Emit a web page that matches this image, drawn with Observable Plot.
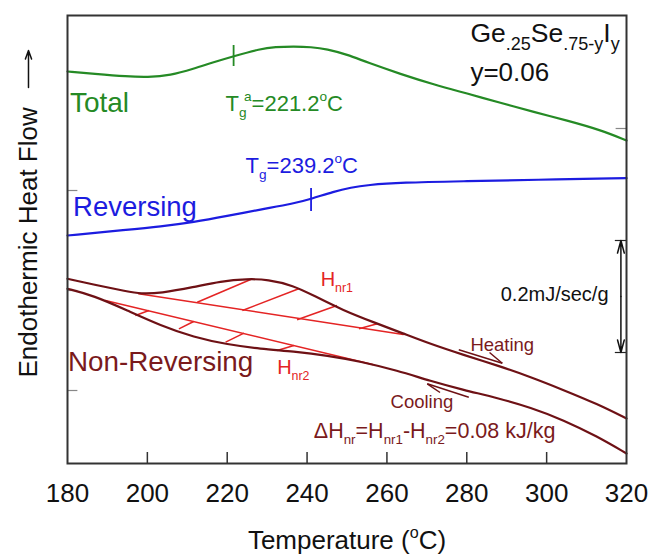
<!DOCTYPE html>
<html><head><meta charset="utf-8">
<script src="https://cdn.jsdelivr.net/npm/d3@7"></script>
<script src="https://cdn.jsdelivr.net/npm/@observablehq/plot@0.6"></script>
<style>body{margin:0;background:#fff;}</style>
</head><body><div id="chart"></div>
<script>
// ---- data (temperature in °C, heat flow in arbitrary units) ----
const xTicks = [180, 200, 220, 240, 260, 280, 300, 320];

const totalT = [180, 186.6, 195, 200, 205.8, 211.6, 216.6, 221.6, 228.3, 232, 236.7, 241, 245, 250, 255.1, 263.4, 271.7, 280.1, 288.4, 296.8, 305.1, 313.5, 320];
const totalV = [392, 389.7, 387, 386.3, 388, 394.7, 401.3, 407.3, 414.7, 416.5, 417, 416.5, 414.5, 409, 401, 389.5, 379, 370, 360.7, 351.5, 343, 333.5, 323];

const revT = [180, 195, 203.3, 211.6, 220, 228.3, 236.7, 241, 246.7, 251, 255.1, 263.4, 280.1, 296.8, 320];
const revV = [228, 233.7, 237, 241.3, 247.5, 254, 260, 264.5, 272, 276, 278.5, 281, 282.3, 283.7, 285.3];

const heatT = [180, 186.5, 195, 198.3, 203.3, 211.6, 218.3, 225.1, 230.1, 236.6, 241.6, 249.1, 256.6, 264.1, 270.9, 279.2, 287.7, 296, 304.2, 312.7, 320];
const heatV = [184.7, 179, 172, 169.7, 170.3, 176.3, 182.3, 184.7, 184, 178, 168, 153, 141.3, 130, 119.5, 108.5, 98, 86.5, 73.5, 59.5, 45];

const coolT = [180, 186.5, 195, 203.3, 211.6, 220.1, 228.3, 236.6, 245.1, 253.4, 262.6, 270.9, 279.2, 287.7, 296, 304.2, 312.7, 320];
const coolV = [174.7, 168, 153, 138, 126.3, 119, 114.7, 112, 108, 102, 93, 82.5, 73.5, 65.5, 56, 43.5, 27, 10];

// straight baselines under the non-reversing enthalpy peaks
const base1T = [197.8, 264.1], base1V = [169.7, 129];
const base2T = [189.5, 256.4], base2V = [163, 99];

// hatch segments [T1, v1, T2, v2]
const hatch1 = [[212.5, 161.3, 226.3, 184.7], [223.8, 153, 237.9, 174.7], [237.5, 143.7, 247.5, 158], [253, 134.7, 257.6, 139.7]];
const hatch2 = [[197, 148, 200.4, 153], [207.9, 134.7, 211.6, 142], [219.6, 121.3, 224.2, 130.3], [232.5, 113, 236.7, 118]];

// glass transition markers
const tgTickT = [221.6, 241.0];
const tgTickV = [[397, 418], [252, 275]];

const leftTickV = [273, 173, 73];
const rightTickV = [335];
const scaleBarV = [111, 223];   // 0.2 mJ/sec/g

// ---- styling ----
const GREEN = "#258a25", BLUE = "#1c1ce0", DARK = "#6e1115", RED = "#e42424", NRTEXT = "#7a1a1c";
const FONT = "'Liberation Sans', Arial, Helvetica, sans-serif";

const zip = (T, V) => T.map((t, i) => ({T: t, v: V[i]}));
const seg = arr => arr.map(([a, b, c, d]) => ({x1: a, y1: b, x2: c, y2: d}));

function label(text, T, v, opts) {
  return Plot.text([{text, T, v}], {x: "T", y: "v", text: "text", lineAnchor: "bottom", textAnchor: "start", ...opts});
}

const plot = Plot.plot({
  width: 651, height: 556,
  marginLeft: 67, marginRight: 25, marginTop: 15, marginBottom: 93,
  style: {fontFamily: FONT, fontSize: "26px", color: "#111", background: "white", overflow: "visible"},
  x: {domain: [180, 320], ticks: xTicks, tickSize: 0, tickPadding: 20, label: null, tickFormat: d => String(d)},
  y: {domain: [0, 448], axis: null},
  marks: [
    Plot.ruleX(xTicks.slice(1, -1), {y1: 0, y2: 11, stroke: "#333", strokeWidth: 1.5}),
    Plot.ruleY(leftTickV, {x1: 180, x2: 182.6, stroke: "#888", strokeWidth: 1.2}),
    Plot.ruleY(rightTickV, {x1: 317.4, x2: 320, stroke: "#888", strokeWidth: 1.2}),
    Plot.ruleY(scaleBarV, {x1: 317.2, x2: 320, stroke: "#222", strokeWidth: 1.2}),
    Plot.arrow([{y1: 167, y2: scaleBarV[1]}, {y1: 167, y2: scaleBarV[0]}], {x1: () => 318.6, x2: () => 318.6, y1: "y1", y2: "y2", stroke: "#111", strokeWidth: 1.5, headLength: 13, headAngle: 30}),

    // curves
    Plot.line(zip(totalT, totalV), {x: "T", y: "v", stroke: GREEN, strokeWidth: 2.2, curve: "basis"}),
    Plot.line(zip(revT, revV), {x: "T", y: "v", stroke: BLUE, strokeWidth: 2.2, curve: "basis"}),
    Plot.link(seg(hatch1), {x1: "x1", y1: "y1", x2: "x2", y2: "y2", stroke: RED, strokeWidth: 1.5}),
    Plot.link(seg(hatch2), {x1: "x1", y1: "y1", x2: "x2", y2: "y2", stroke: RED, strokeWidth: 1.5}),
    Plot.line(zip(base1T, base1V), {x: "T", y: "v", stroke: RED, strokeWidth: 1.5}),
    Plot.line(zip(base2T, base2V), {x: "T", y: "v", stroke: RED, strokeWidth: 1.5}),
    Plot.line(zip(heatT, heatV), {x: "T", y: "v", stroke: DARK, strokeWidth: 2.2, curve: "basis"}),
    Plot.line(zip(coolT, coolV), {x: "T", y: "v", stroke: DARK, strokeWidth: 2.2, curve: "basis"}),

    // Tg ticks
    Plot.ruleX([0], {x: () => tgTickT[0], y1: () => tgTickV[0][0], y2: () => tgTickV[0][1], stroke: GREEN, strokeWidth: 1.8}),
    Plot.ruleX([0], {x: () => tgTickT[1], y1: () => tgTickV[1][0], y2: () => tgTickV[1][1], stroke: BLUE, strokeWidth: 1.8}),

    // heating / cooling harpoons
    Plot.link([{x1: 278, y1: 113.7, x2: 288.9, y2: 100.3}, {x1: 285.7, y1: 111, x2: 288.9, y2: 100.3}], {x1: "x1", y1: "y1", x2: "x2", y2: "y2", stroke: DARK, strokeWidth: 1.5}),
    Plot.link([{x1: 280.5, y1: 66.3, x2: 270.1, y2: 79.7}, {x1: 273.3, y1: 71, x2: 270.1, y2: 79.7}], {x1: "x1", y1: "y1", x2: "x2", y2: "y2", stroke: DARK, strokeWidth: 1.5}),

    // annotations
    label("Total", 180.6, 351.3, {fill: GREEN, fontSize: 28}),
    label("T_{g}^{a}=221.2^{o}C", 219.6, 353, {fill: GREEN, fontSize: 22}),
    label("T_{g}=239.2^{o}C", 224.6, 291, {fill: BLUE, fontSize: 22}),
    label("Reversing", 181.4, 248, {fill: BLUE, fontSize: 27.5}),
    label("Non-Reversing", 180.1, 93, {fill: NRTEXT, fontSize: 27.8}),
    label("H_{nr1}", 243.4, 178, {fill: RED, fontSize: 20}),
    label("H_{nr2}", 232.5, 89.5, {fill: RED, fontSize: 20}),
    label("Heating", 280.9, 113, {fill: NRTEXT, fontSize: 18.5}),
    label("Cooling", 260.9, 56, {fill: NRTEXT, fontSize: 18.5}),
    label("ΔH_{nr}=H_{nr1}-H_{nr2}=0.08 kJ/kg", 302.2, 26, {fill: NRTEXT, fontSize: 21.5, textAnchor: "end"}),
    label("Ge_{.25}Se_{.75-y}I_{y}", 280.9, 421.3, {fill: "#111", fontSize: 26.5, subScale: 0.68}),
    label("y=0.06", 280.9, 383, {fill: "#111", fontSize: 26}),
    label("0.2mJ/sec/g", 315.5, 163, {fill: "#111", fontSize: 20, textAnchor: "end"}),

    // axis titles
    label("Temperature (^{o}C)", 250, -85, {fill: "#111", fontSize: 26, textAnchor: "middle"}),
    Plot.text([{t: "Endothermic Heat Flow"}], {x: () => 170.23, y: () => 86, text: "t", rotate: -90, textAnchor: "start", lineAnchor: "middle", fontSize: 26, fill: "#111"}),
    Plot.arrow([0], {x1: () => 170.23, x2: () => 170.23, y1: () => 376, y2: () => 413, stroke: "#111", strokeWidth: 1.5, headLength: 9, headAngle: 40}),

    Plot.frame({stroke: "#333", strokeWidth: 2})
  ]
});

// rich text: _{sub} and ^{sup}; a sup right after a sub is stacked above it
function richify(svg) {
  svg.querySelectorAll("text").forEach(t => {
    const s = t.textContent;
    if (!/[_^]\{/.test(s)) return;
    const fs = parseFloat(getComputedStyle(t).fontSize) || 20;
    const big = /^Ge/.test(s);
    const scale = big ? 0.68 : 0.62;
    const parts = [];
    let i = 0;
    while (i < s.length) {
      if ((s[i] === "_" || s[i] === "^") && s[i + 1] === "{") {
        const j = s.indexOf("}", i);
        parts.push({type: s[i], text: s.slice(i + 2, j)});
        i = j + 1;
      } else {
        let j = i;
        while (j < s.length && !((s[j] === "_" || s[j] === "^") && s[j + 1] === "{")) j++;
        parts.push({type: "n", text: s.slice(i, j)});
        i = j;
      }
    }
    t.textContent = "";
    let cur = 0, prev = null, prevNode = null;
    for (const p of parts) {
      const target = p.type === "_" ? 0.3 * fs : p.type === "^" ? -0.42 * fs : 0;
      const ts = document.createElementNS("http://www.w3.org/2000/svg", "tspan");
      ts.setAttribute("dy", (target - cur).toFixed(2));
      cur = target;
      if (p.type !== "n") ts.setAttribute("font-size", (scale * fs).toFixed(2));
      if (p.type === "^" && prev === "_" && prevNode) {
        const w = prevNode.getComputedTextLength ? prevNode.getComputedTextLength() : 0;
        ts.setAttribute("dx", (-w * 0.35).toFixed(2));
      }
      ts.textContent = p.text;
      t.appendChild(ts);
      prev = p.type; prevNode = ts;
    }
  });
}

document.getElementById("chart").appendChild(plot);
richify(plot);
</script>
</body></html>
